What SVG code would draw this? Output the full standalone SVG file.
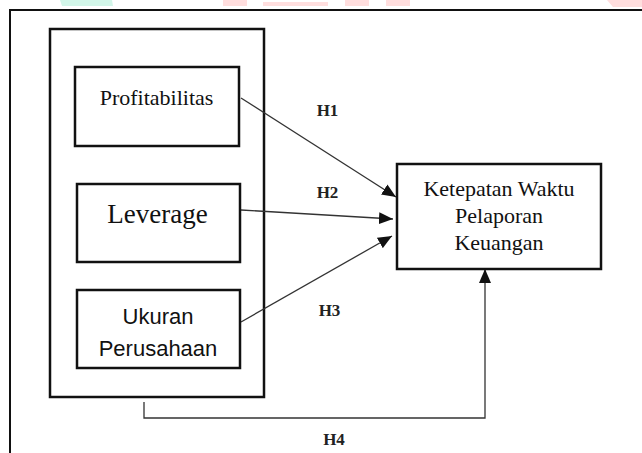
<svg xmlns="http://www.w3.org/2000/svg" width="642" height="453" viewBox="0 0 642 453">
  <style>
    .box { fill: #ffffff; stroke: #111111; stroke-width: 2.5; }
    .frame { fill: none; stroke: #111111; stroke-width: 2; }
    .serif { font-family: "Liberation Serif", "Times New Roman", serif; fill: #111111; text-anchor: middle; }
    .sans { font-family: "Liberation Sans", Arial, sans-serif; fill: #111111; text-anchor: middle; }
    .hlab { font-family: "Liberation Serif", "Times New Roman", serif; fill: #222222; font-size: 17px; font-weight: bold; text-anchor: middle; }
    .conn { fill: none; stroke: #333333; stroke-width: 1.3; }
  </style>
  <defs>
    <marker id="arrow" viewBox="0 0 14 12" refX="14" refY="6" markerWidth="14" markerHeight="12" markerUnits="userSpaceOnUse" orient="auto">
      <path d="M0,0 L14,6 L0,12 Z" fill="#111111"/>
    </marker>
  </defs>
  <rect width="642" height="453" fill="#ffffff"/>
  <g id="watermark">
    <polygon points="60,0 112,0 113,6 62,6" fill="#d2f6e9"/>
    <rect x="223" y="0" width="24" height="6" fill="#ffdede"/>
    <rect x="263" y="2" width="65" height="4" fill="#ffdede"/>
    <rect x="345" y="0" width="24" height="6" fill="#ffdede"/>
    <rect x="386" y="0" width="24" height="6" fill="#ffdede"/>
    <polygon points="607,0 642,0 642,7 613,7" fill="#ffdede"/>
  </g>
  <path id="outer-frame" class="frame" d="M10,453 V10 H642"/>
  <g id="independent-group">
    <rect class="box" x="50" y="29" width="214" height="368"/>
  </g>
  <g id="connectors">
    <line class="conn" x1="241" y1="98" x2="396" y2="197" marker-end="url(#arrow)"/>
    <line class="conn" x1="241" y1="210" x2="393" y2="219" marker-end="url(#arrow)"/>
    <line class="conn" x1="241" y1="322" x2="392" y2="236" marker-end="url(#arrow)"/>
    <path class="conn" d="M144,402 V418 H485 V269" marker-end="url(#arrow)"/>
  </g>
  <g id="profitabilitas">
    <rect class="box" x="75" y="67" width="164" height="79"/>
    <text class="serif" x="156.5" y="105" font-size="22">Profitabilitas</text>
  </g>
  <g id="leverage">
    <rect class="box" x="77" y="184" width="163" height="78"/>
    <text class="serif" x="157.5" y="223" font-size="27">Leverage</text>
  </g>
  <g id="ukuran-perusahaan">
    <rect class="box" x="77" y="290" width="163" height="78"/>
    <text class="sans" x="158" y="324" font-size="22">Ukuran</text>
    <text class="sans" x="158" y="356" font-size="22">Perusahaan</text>
  </g>
  <g id="ketepatan-waktu">
    <rect class="box" x="397" y="164" width="204" height="105"/>
    <text class="serif" x="499" y="196" font-size="22">Ketepatan Waktu</text>
    <text class="serif" x="499" y="222.5" font-size="22">Pelaporan</text>
    <text class="serif" x="499" y="249.5" font-size="22">Keuangan</text>
  </g>
  <g id="labels">
    <text class="hlab" x="327.5" y="116">H1</text>
    <text class="hlab" x="327.5" y="198">H2</text>
    <text class="hlab" x="329.5" y="316">H3</text>
    <text class="hlab" x="334" y="445">H4</text>
  </g>
</svg>
